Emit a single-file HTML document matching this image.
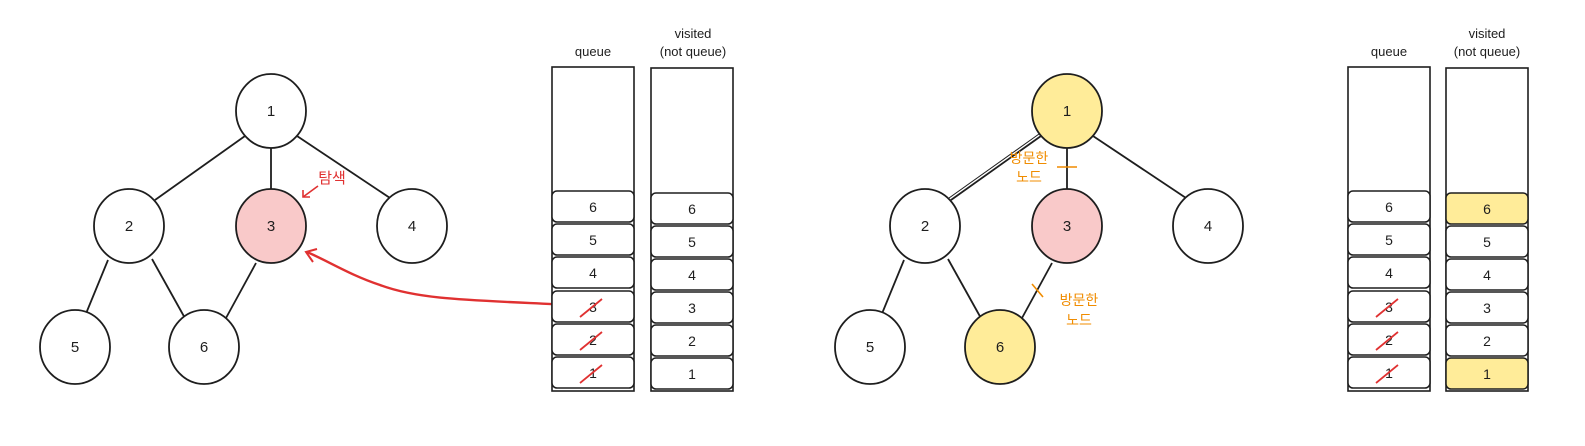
<!DOCTYPE html>
<html><head><meta charset="utf-8"><style>
html,body{margin:0;padding:0;background:#fff;}
svg{display:block;}
text{font-family:"Liberation Sans","Noto Sans CJK KR",sans-serif;}
</style></head><body>
<svg width="1585" height="446" viewBox="0 0 1585 446" xmlns="http://www.w3.org/2000/svg">
<defs>
<g id="tree">
  <g stroke="#1e1e1e" stroke-width="1.8" fill="none">
    <line x1="245" y1="136" x2="155" y2="200"/>
    <line x1="271" y1="147" x2="271" y2="190"/>
    <line x1="297" y1="136" x2="393" y2="200"/>
    <line x1="108" y1="260" x2="85" y2="316"/>
    <line x1="152" y1="259" x2="186" y2="320"/>
    <line x1="256" y1="263" x2="226" y2="318"/>
  </g>
</g>
</defs>

<!-- LEFT -->
<use href="#tree"/>
<g stroke="#1e1e1e" stroke-width="1.8">
  <ellipse cx="271" cy="111" rx="35" ry="37" fill="#fff"/>
  <ellipse cx="129" cy="226" rx="35" ry="37" fill="#fff"/>
  <ellipse cx="271" cy="226" rx="35" ry="37" fill="#f9c9c9"/>
  <ellipse cx="412" cy="226" rx="35" ry="37" fill="#fff"/>
  <ellipse cx="75" cy="347" rx="35" ry="37" fill="#fff"/>
  <ellipse cx="204" cy="347" rx="35" ry="37" fill="#fff"/>
</g>
<g font-size="15" text-anchor="middle" fill="#1e1e1e">
  <text x="271" y="116">1</text><text x="129" y="231">2</text><text x="271" y="231">3</text>
  <text x="412" y="231">4</text><text x="75" y="352">5</text><text x="204" y="352">6</text>
</g>
<text x="332" y="183" font-size="15" fill="#e03131" text-anchor="middle">탐색</text>
<g stroke="#e03131" stroke-width="1.6" fill="none">
  <line x1="318" y1="186" x2="303" y2="197"/>
  <polyline points="303,190 303,197 310,197"/>
  <path d="M572,305 C470,300 420,300 380,285 C350,275 330,262 307,252" stroke-width="2.4"/>
  <polyline points="317,249 306,252 313,262" stroke-width="2"/>
</g>

<!-- queue/visited left -->
<g font-size="13" fill="#1e1e1e" text-anchor="middle">
  <text x="593" y="56">queue</text>
  <text x="693" y="38">visited</text>
  <text x="693" y="56">(not queue)</text>
</g>
<g stroke="#1e1e1e" stroke-width="1.6" fill="none">
  <rect x="552" y="67" width="82" height="324"/>
  <rect x="651" y="68" width="82" height="323"/>
</g>
<g stroke="#1e1e1e" stroke-width="1.5" fill="#fff">
  <rect x="552" y="191" width="82" height="31" rx="5"/><rect x="552" y="224" width="82" height="31" rx="5"/>
  <rect x="552" y="257" width="82" height="31" rx="5"/><rect x="552" y="291" width="82" height="31" rx="5"/>
  <rect x="552" y="324" width="82" height="31" rx="5"/><rect x="552" y="357" width="82" height="31" rx="5"/>
  <rect x="651" y="193" width="82" height="31" rx="5"/><rect x="651" y="226" width="82" height="31" rx="5"/>
  <rect x="651" y="259" width="82" height="31" rx="5"/><rect x="651" y="292" width="82" height="31" rx="5"/>
  <rect x="651" y="325" width="82" height="31" rx="5"/><rect x="651" y="358" width="82" height="31" rx="5"/>
</g>
<g font-size="14" fill="#1e1e1e" text-anchor="middle">
  <text x="593" y="212">6</text><text x="593" y="245">5</text><text x="593" y="278">4</text>
  <text x="593" y="312">3</text><text x="593" y="345">2</text><text x="593" y="378">1</text>
  <text x="692" y="214">6</text><text x="692" y="247">5</text><text x="692" y="280">4</text>
  <text x="692" y="313">3</text><text x="692" y="346">2</text><text x="692" y="379">1</text>
</g>
<g stroke="#e03131" stroke-width="1.8">
  <line x1="580" y1="317" x2="602" y2="299"/>
  <line x1="580" y1="350" x2="602" y2="332"/>
  <line x1="580" y1="383" x2="602" y2="365"/>
</g>

<!-- RIGHT -->
<g transform="translate(796,0)">
  <use href="#tree"/>
  <line x1="243" y1="134" x2="153" y2="198" stroke="#1e1e1e" stroke-width="1"/>
  <g stroke="#1e1e1e" stroke-width="1.8">
    <ellipse cx="271" cy="111" rx="35" ry="37" fill="#ffec99"/>
    <ellipse cx="129" cy="226" rx="35" ry="37" fill="#fff"/>
    <ellipse cx="271" cy="226" rx="35" ry="37" fill="#f9c9c9"/>
    <ellipse cx="412" cy="226" rx="35" ry="37" fill="#fff"/>
    <ellipse cx="74" cy="347" rx="35" ry="37" fill="#fff"/>
    <ellipse cx="204" cy="347" rx="35" ry="37" fill="#ffec99"/>
  </g>
  <g font-size="15" text-anchor="middle" fill="#1e1e1e">
    <text x="271" y="116">1</text><text x="129" y="231">2</text><text x="271" y="231">3</text>
    <text x="412" y="231">4</text><text x="74" y="352">5</text><text x="204" y="352">6</text>
  </g>
  <g stroke="#f08c00" stroke-width="1.6">
    <line x1="261" y1="167" x2="281" y2="167"/>
    <line x1="236" y1="284" x2="247" y2="297"/>
  </g>
  <g font-size="14" fill="#f08c00" text-anchor="middle">
    <text x="233" y="163">방문한</text><text x="233" y="182">노드</text>
    <text x="283" y="305">방문한</text><text x="283" y="325">노드</text>
  </g>
</g>

<g font-size="13" fill="#1e1e1e" text-anchor="middle">
  <text x="1389" y="56">queue</text>
  <text x="1487" y="38">visited</text>
  <text x="1487" y="56">(not queue)</text>
</g>
<g stroke="#1e1e1e" stroke-width="1.6" fill="none">
  <rect x="1348" y="67" width="82" height="324"/>
  <rect x="1446" y="68" width="82" height="323"/>
</g>
<g stroke="#1e1e1e" stroke-width="1.5" fill="#fff">
  <rect x="1348" y="191" width="82" height="31" rx="5"/><rect x="1348" y="224" width="82" height="31" rx="5"/>
  <rect x="1348" y="257" width="82" height="31" rx="5"/><rect x="1348" y="291" width="82" height="31" rx="5"/>
  <rect x="1348" y="324" width="82" height="31" rx="5"/><rect x="1348" y="357" width="82" height="31" rx="5"/>
  <rect x="1446" y="193" width="82" height="31" rx="5" fill="#ffec99"/><rect x="1446" y="226" width="82" height="31" rx="5"/>
  <rect x="1446" y="259" width="82" height="31" rx="5"/><rect x="1446" y="292" width="82" height="31" rx="5"/>
  <rect x="1446" y="325" width="82" height="31" rx="5"/><rect x="1446" y="358" width="82" height="31" rx="5" fill="#ffec99"/>
</g>
<g font-size="14" fill="#1e1e1e" text-anchor="middle">
  <text x="1389" y="212">6</text><text x="1389" y="245">5</text><text x="1389" y="278">4</text>
  <text x="1389" y="312">3</text><text x="1389" y="345">2</text><text x="1389" y="378">1</text>
  <text x="1487" y="214">6</text><text x="1487" y="247">5</text><text x="1487" y="280">4</text>
  <text x="1487" y="313">3</text><text x="1487" y="346">2</text><text x="1487" y="379">1</text>
</g>
<g stroke="#e03131" stroke-width="1.8">
  <line x1="1376" y1="317" x2="1398" y2="299"/>
  <line x1="1376" y1="350" x2="1398" y2="332"/>
  <line x1="1376" y1="383" x2="1398" y2="365"/>
</g>
</svg>
</body></html>
